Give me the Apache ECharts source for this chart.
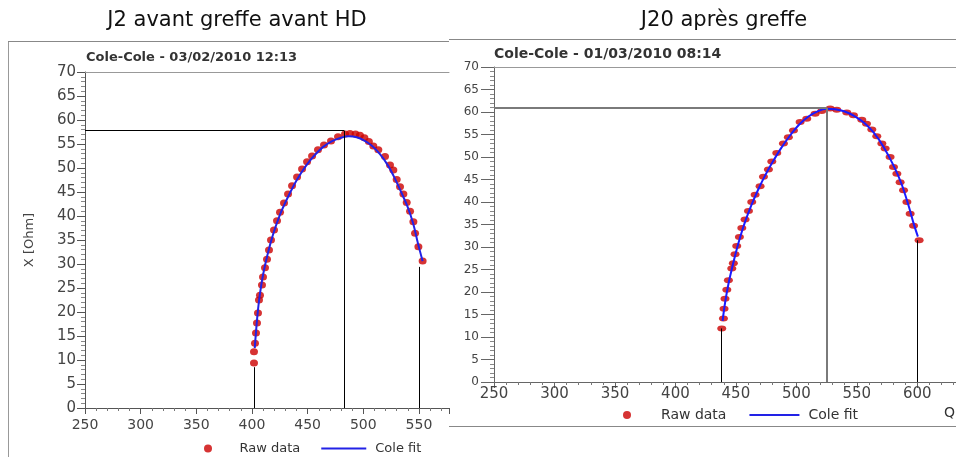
<!DOCTYPE html>
<html><head><meta charset="utf-8">
<script src="https://cdn.jsdelivr.net/npm/echarts@6/dist/echarts.min.js"></script>
<style>html,body{margin:0;padding:0;background:#fff}#c{width:956px;height:457px}</style>
</head><body><div id="c"></div>
<script>
// ---------- data ----------
const panelTitles = ['J2 avant greffe avant HD', 'J20 après greffe'];
const chartTitles = ['Cole-Cole - 03/02/2010 12:13', 'Cole-Cole - 01/03/2010 08:14'];
const legendNames = ['Raw data', 'Cole fit'];
const yAxisName = 'X [Ohm]';

// Left (J2) raw data
const leftRawX = [401.8,401.8,402.7,403.6,404.5,405.4,406.3,407.2,409,409.9,411.7,413.5,415.3,417.1,419.8,422.5,425.2,428.8,432.4,436,440.5,445,449.5,454,459.3,464.7,471,477.3,483.6,488,493,497,501,505,509,513.5,519.5,524,527,530,533,536,539,542,545,546.5,549.5,553.3];
const leftRawY = [9.4,11.7,13.5,15.6,17.7,19.8,22.5,23.5,25.6,27.3,29.2,31,32.9,35,37.1,39,40.8,42.7,44.6,46.3,48.1,49.8,51.3,52.5,53.8,54.8,55.6,56.5,57.1,57.2,57.1,56.8,56.3,55.5,54.6,53.8,52.4,50.6,49.6,47.6,46.1,44.6,42.8,41,38.8,36.4,33.6,30.6];
// Left fit
const leftFitX = [402.5,403.5,405,407,410,414,419,425,432,440,448,456,464,472,480,487,494,501,508,515,522,528,534,540,545,549,553.3];
const leftFitY = [12.5,15.5,19.5,23.5,27.8,32,36.2,40.2,43.8,47.4,50.3,52.6,54.4,55.6,56.3,56.6,56.4,55.7,54.6,52.9,50.6,48,45,41.8,38.3,34.4,30.6];
// Left guide lines: [x, top y]
const leftGuideX = [401.8, 482.7, 550.4];
const leftGuideTop = [8.5, 57.8, 29.4];

// Right (J20) raw data
const rightRawX = [438.3,439.7,440.2,441,442.5,443.8,446.6,447.9,449.3,450.7,452.9,454.9,457.6,460.4,463.1,465.9,470,472.8,476.9,479.7,483.8,489.3,493.4,497.6,503.1,508.6,515.5,521,527.9,533.4,541.7,547.2,554.1,558,562.4,566.5,570.7,573.4,577.5,580.3,583.1,585.8,588.6,591.4,594.1,596.9,601.5];
const rightRawY = [11.9,14.1,16.3,18.5,20.5,22.6,25.2,26.4,28.4,30.2,32.2,34.2,36.1,38,40,41.6,43.5,45.6,47.2,49,50.9,53,54.4,55.9,57.8,58.5,59.6,60.2,60.8,60.5,59.9,59.3,58.3,57.4,56.1,54.6,53,51.9,50,47.8,46.3,44.4,42.6,40,37.4,34.7,31.5];
// Right fit
const rightFitX = [439,441,444,447,450,454,458,463,468,474,480,487,494,502,510,518,525,532,540,548,556,564,572,580,587,593,597,600.5];
const rightFitY = [13.6,17.5,22,25.5,28.8,32.6,35.9,39.4,42.5,45.8,48.7,51.8,54.5,57.1,59,60.2,60.7,60.6,60.1,59.1,57.6,55.4,52.3,48.3,44,39,35.2,32.3];
// Right guide lines
const rightGuideX = [438.3, 525.2, 600.1];
const rightGuideTop = [11.9, 60.9, 31.5];

// axis ranges
const xMin = 250, xInterval = 50, yMin = 0, yMax = 70, yInterval = 5;
const leftXMax = 577, rightXMax = 632;

// ---------- build ----------
const zip = (a, b) => a.map((v, i) => [v, b[i]]);
const FONT = '"DejaVu Sans", sans-serif';

function guideLines(gx, gt, peakStyle, sideStyle) {
  const d = [];
  gx.forEach((x, i) => {
    d.push([{coord: [x, 0], lineStyle: i === 1 ? peakStyle : sideStyle}, {coord: [x, gt[i]]}]);
  });
  d.push([{coord: [xMin, gt[1]], lineStyle: peakStyle}, {coord: [gx[1], gt[1]]}]);
  return d;
}

function xAxisBottom(gi, max, fs, margin, tickLen, color) {
  return {gridIndex: gi, type: 'value', min: xMin, max: max, interval: xInterval,
    axisLine: {onZero: false, lineStyle: {color: color, width: 1}},
    axisTick: {length: tickLen, lineStyle: {color: color}},
    minorTick: {show: true, splitNumber: 5, length: 3, lineStyle: {color: '#777'}},
    axisLabel: {formatter: v => (v % 50 === 0 ? String(v) : ''), margin: margin, fontFamily: FONT, fontSize: fs, color: '#444'},
    splitLine: {show: false}};
}
function xAxisTop(gi, max) {
  return {gridIndex: gi, type: 'value', position: 'top', min: xMin, max: max,
    axisLine: {show: true, onZero: false, lineStyle: {color: '#999'}},
    axisTick: {show: false}, axisLabel: {show: false}, splitLine: {show: false}};
}
function yAxis(gi, fs, margin, tickLen, color, name) {
  return {gridIndex: gi, type: 'value', min: yMin, max: yMax, interval: yInterval,
    name: name || '', nameLocation: 'middle', nameGap: 49,
    nameTextStyle: {fontFamily: FONT, fontSize: 13, color: '#444'},
    axisLine: {show: true, onZero: false, lineStyle: {color: color}},
    axisTick: {show: true, length: tickLen, lineStyle: {color: color}},
    minorTick: {show: true, splitNumber: 5, length: 4, lineStyle: {color: '#888'}},
    axisLabel: {margin: margin, fontFamily: FONT, fontSize: fs, color: '#444'},
    splitLine: {show: false}};
}

const blackStyle = {type: 'solid', color: '#000', width: 1};
const grayStyle = {type: 'solid', color: '#7a7a7a', width: 2};
const legendData = [{name: legendNames[0]}, {name: legendNames[1], itemStyle: {opacity: 0}}];
const RED = '#cc0000';

const option = {
  animation: false,
  grid: [
    {left: 85, top: 72, width: 364, height: 336, outerBoundsMode: 'none', containLabel: false},
    {left: 494, top: 67, width: 462, height: 315, outerBoundsMode: 'none', containLabel: false}
  ],
  xAxis: [
    xAxisBottom(0, leftXMax, 14, 10, 6, '#555'),
    xAxisBottom(1, rightXMax, 15, 5, 6, '#666'),
    xAxisTop(0, leftXMax),
    xAxisTop(1, rightXMax)
  ],
  yAxis: [
    yAxis(0, 15, 9, 8, '#555', yAxisName),
    yAxis(1, 12, 15, 13, '#666')
  ],
  legend: [
    {data: legendData, left: 204, top: 442, itemWidth: 45, itemHeight: 8, itemGap: 20, padding: 0,
     selectedMode: false, textStyle: {fontFamily: FONT, fontSize: 13, color: '#333', padding: [0, 0, 0, 4]}},
    {data: legendData, left: 623, top: 408, itemWidth: 50, itemHeight: 8, itemGap: 22, padding: 0,
     selectedMode: false, textStyle: {fontFamily: FONT, fontSize: 14, color: '#333', padding: [0, 0, 0, 4]}}
  ],
  series: [
    {name: 'guides', type: 'scatter', xAxisIndex: 0, yAxisIndex: 0, data: [], z: 1, silent: true,
     markLine: {silent: true, symbol: ['none', 'none'], label: {show: false}, animation: false,
       lineStyle: blackStyle, data: guideLines(leftGuideX, leftGuideTop, blackStyle, blackStyle)}},
    {name: 'guides', type: 'scatter', xAxisIndex: 1, yAxisIndex: 1, data: [], z: 1, silent: true,
     markLine: {silent: true, symbol: ['none', 'none'], label: {show: false}, animation: false,
       lineStyle: blackStyle, data: guideLines(rightGuideX, rightGuideTop, grayStyle, blackStyle)}},
    {name: 'Raw data', type: 'scatter', xAxisIndex: 0, yAxisIndex: 0, data: zip(leftRawX, leftRawY),
     symbol: 'circle', symbolSize: [8, 7], itemStyle: {color: RED}, z: 2},
    {name: 'Cole fit', type: 'line', xAxisIndex: 0, yAxisIndex: 0, data: zip(leftFitX, leftFitY),
     symbol: 'none', smooth: 0.3, lineStyle: {color: '#2222e6', width: 2}, itemStyle: {color: '#2222e6'}, z: 3},
    {name: 'Raw data', type: 'scatter', xAxisIndex: 1, yAxisIndex: 1, data: zip(rightRawX, rightRawY),
     symbol: 'circle', symbolSize: [9, 6], itemStyle: {color: RED}, z: 2},
    {name: 'Cole fit', type: 'line', xAxisIndex: 1, yAxisIndex: 1, data: zip(rightFitX, rightFitY),
     symbol: 'none', smooth: 0.3, lineStyle: {color: '#1a1aff', width: 2}, itemStyle: {color: '#1a1aff'}, z: 3}
  ],
  graphic: [
    {type: 'text', x: 237, y: 21, style: {text: panelTitles[0], font: '21px "DejaVu Sans", sans-serif', fill: '#111', textAlign: 'center', textVerticalAlign: 'middle', align: 'center', verticalAlign: 'middle'}},
    {type: 'text', x: 724, y: 21, style: {text: panelTitles[1], font: '21px "DejaVu Sans", sans-serif', fill: '#111', textAlign: 'center', textVerticalAlign: 'middle', align: 'center', verticalAlign: 'middle'}},
    {type: 'text', x: 86, y: 58, style: {text: chartTitles[0], font: 'bold 13px "DejaVu Sans", sans-serif', fill: '#333', textAlign: 'left', textVerticalAlign: 'middle', align: 'left', verticalAlign: 'middle'}},
    {type: 'text', x: 494, y: 54, style: {text: chartTitles[1], font: 'bold 14px "DejaVu Sans", sans-serif', fill: '#333', textAlign: 'left', textVerticalAlign: 'middle', align: 'left', verticalAlign: 'middle'}},
    {type: 'text', x: 944, y: 413, style: {text: 'Q', font: '14px "DejaVu Sans", sans-serif', fill: '#333', textAlign: 'left', textVerticalAlign: 'middle', align: 'left', verticalAlign: 'middle'}},
    {type: 'line', shape: {x1: 8.5, y1: 41, x2: 8.5, y2: 457}, style: {stroke: '#999', lineWidth: 1}},
    {type: 'line', shape: {x1: 8, y1: 41.5, x2: 449, y2: 41.5}, style: {stroke: '#888', lineWidth: 1}},
    {type: 'line', shape: {x1: 449, y1: 39.5, x2: 956, y2: 39.5}, style: {stroke: '#888', lineWidth: 1}},
    {type: 'line', shape: {x1: 449, y1: 426.5, x2: 956, y2: 426.5}, style: {stroke: '#888', lineWidth: 1}}
  ]
};

const chart = echarts.init(document.getElementById('c'), null, {renderer: 'canvas'});
chart.setOption(option);
</script>
</body></html>
